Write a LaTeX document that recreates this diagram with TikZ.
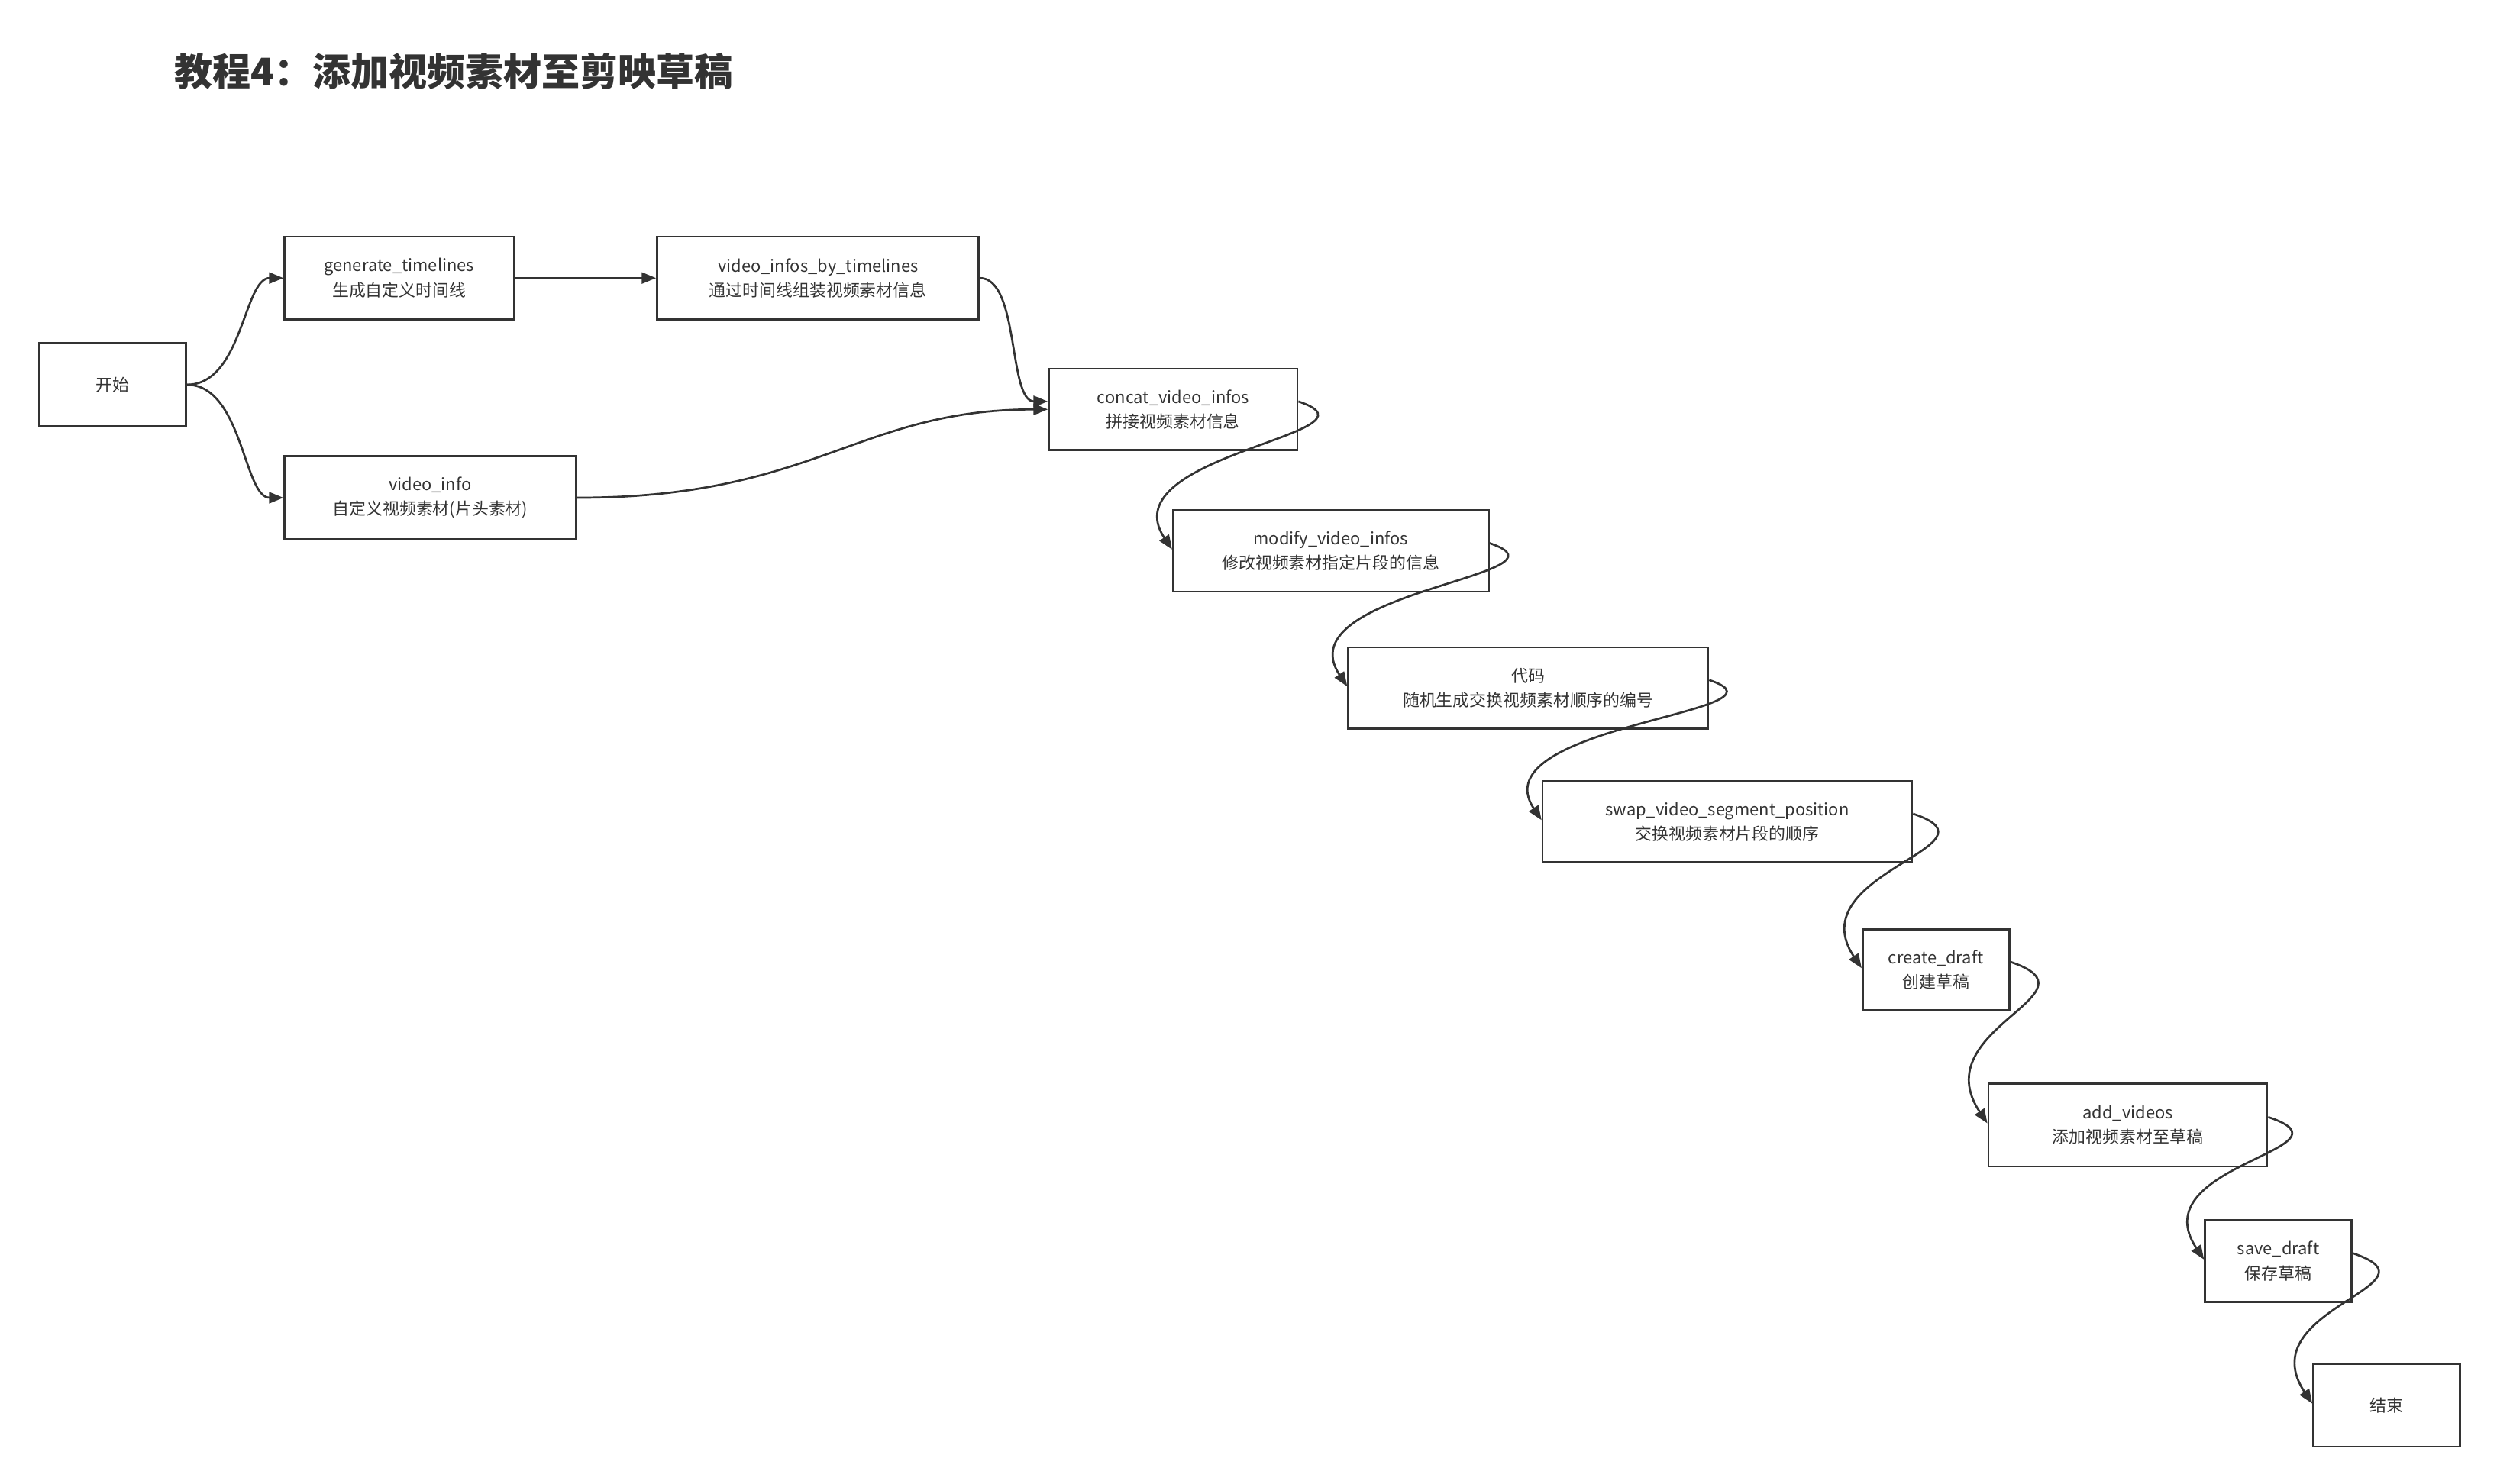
\documentclass[tikz,border=0pt]{standalone}
\usepackage{fontspec}
\setmainfont{Noto Sans CJK SC}
\usetikzlibrary{arrows.meta}
\definecolor{ink}{HTML}{333333}
\begin{document}
\begin{tikzpicture}[x=1pt,y=-1pt,
  bx/.style={draw=ink,line width=1.3pt,fill=white,inner sep=0pt,font=\fontsize{10.5}{15.5}\selectfont,text=ink,align=center,anchor=north west},
  ar/.style={draw=ink,line width=1.3pt,-{Triangle[length=9pt,width=7pt]}}]
\useasboundingbox (0,0) rectangle (1568,932);
\node[anchor=west,font=\bfseries\fontsize{24}{28}\selectfont,text=ink] (title) at (106,45) {教程4：添加视频素材至剪映草稿};
\newcommand\bxn[6]{\node[bx,minimum width=#4-#2,minimum height=#5-#3] (#1) at (#2,#3) {#6};}
\bxn{s}{24}{215}{116}{267}{开始}
\bxn{g}{178}{148}{322}{200}{generate\_timelines\\生成自定义时间线}
\bxn{v}{412}{148}{614}{200}{video\_infos\_by\_timelines\\通过时间线组装视频素材信息}
\bxn{vi}{178}{286}{361}{338}{video\_info\\自定义视频素材(片头素材)}
\bxn{c}{658}{231}{814}{282}{concat\_video\_infos\\拼接视频素材信息}
\bxn{m}{736}{320}{934}{371}{modify\_video\_infos\\修改视频素材指定片段的信息}
\bxn{d}{846}{406}{1072}{457}{代码\\随机生成交换视频素材顺序的编号}
\bxn{w}{968}{490}{1200}{541}{swap\_video\_segment\_position\\交换视频素材片段的顺序}
\bxn{cd}{1169}{583}{1261}{634}{create\_draft\\创建草稿}
\bxn{av}{1248}{680}{1423}{732}{add\_videos\\添加视频素材至草稿}
\bxn{sd}{1384}{766}{1476}{817}{save\_draft\\保存草稿}
\bxn{e}{1452}{856}{1544}{908}{结束}
\draw[ar] (s.east) .. controls +(35,0) and +(-25,0) .. (g.west);
\draw[ar] (s.east) .. controls +(35,0) and +(-25,0) .. (vi.west);
\draw[ar] (g.east) -- (v.west);
\draw[ar] ([yshift=0pt]v.east) .. controls +(25,0) and +(-25,0) .. ([yshift=5pt]c.west);
\draw[ar] (vi.east) .. controls +(150,0) and +(-120,0) .. ([yshift=0pt]c.west);
\newcommand\sn[2]{\draw[ar] ([yshift=5pt]#1.east) .. controls +(60,20) and +(-40,-60) .. ([yshift=1pt]#2.west);}
\sn{c}{m}
\sn{m}{d}
\sn{d}{w}
\sn{w}{cd}
\sn{cd}{av}
\sn{av}{sd}
\sn{sd}{e}
\end{tikzpicture}
\end{document}
